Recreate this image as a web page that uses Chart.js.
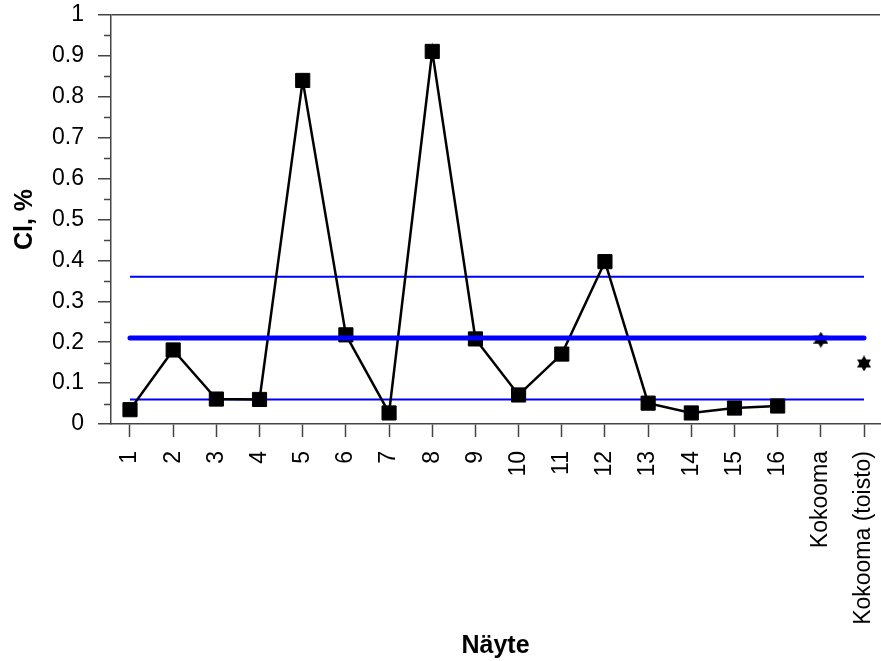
<!DOCTYPE html>
<html>
<head>
<meta charset="utf-8">
<script src="https://cdn.jsdelivr.net/npm/chart.js@4/dist/chart.umd.min.js"></script>
<style>
  html, body { margin: 0; padding: 0; background: #fff; overflow: hidden; }
  #wrap { width: 891px; height: 661px; }
</style>
</head>
<body>
<div id="wrap"><canvas id="chart"></canvas></div>
<script>
const samples = ["1", "2", "3", "4", "5", "6", "7", "8", "9", "10", "11", "12", "13", "14", "15", "16", "Kokooma", "Kokooma (toisto)"];
const clValues = [0.035, 0.181, 0.061, 0.060, 0.840, 0.218, 0.027, 0.911, 0.208, 0.071, 0.171, 0.397, 0.051, 0.027, 0.039, 0.044];
const kokooma = 0.206;
const kokoomaToisto = 0.148;
const upperLimit = 0.36;
const meanLine = 0.21;
const lowerLimit = 0.06;
const yTicks = [0, 0.1, 0.2, 0.3, 0.4, 0.5, 0.6, 0.7, 0.8, 0.9, 1];
const yMinorTicks = [0.05, 0.15, 0.25, 0.35, 0.45, 0.55, 0.65, 0.75, 0.85, 0.95];

const AXIS = "#444";
const FONT = "'Liberation Sans', Arial, sans-serif";

// six pointed star used for the two combined samples
function starImage(w, h) {
  const c = document.createElement("canvas");
  c.width = w;
  c.height = h;
  const g = c.getContext("2d");
  g.fillStyle = "#000";
  g.beginPath();
  g.moveTo(w / 2, 0);
  g.lineTo(w, h * 0.75);
  g.lineTo(0, h * 0.75);
  g.closePath();
  g.fill();
  g.beginPath();
  g.moveTo(w / 2, h);
  g.lineTo(w, h * 0.25);
  g.lineTo(0, h * 0.25);
  g.closePath();
  g.fill();
  return c;
}

function hline(v) {
  return [{ x: 1, y: v }, { x: samples.length, y: v }];
}

const minorTicks = {
  id: "minorTicks",
  afterDraw(chart) {
    const y = chart.scales.y;
    const ctx = chart.ctx;
    ctx.save();
    ctx.strokeStyle = AXIS;
    ctx.lineWidth = 1.5;
    yMinorTicks.forEach(v => {
      const py = Math.round(y.getPixelForValue(v)) + 0.5;
      ctx.beginPath();
      ctx.moveTo(y.right - 7, py);
      ctx.lineTo(y.right, py);
      ctx.stroke();
    });
    ctx.restore();
  }
};

new Chart(document.getElementById("chart"), {
  type: "line",
  data: {
    datasets: [
      {
        data: hline(meanLine),
        borderColor: "#0000ff",
        borderWidth: 5,
        borderCapStyle: "round",
        pointRadius: 0,
        order: 0
      },
      {
        data: clValues.map((v, i) => ({ x: i + 1, y: v })),
        borderColor: "#000",
        borderWidth: 2.5,
        pointStyle: "rect",
        pointRadius: 10,
        pointBorderWidth: 1,
        pointBackgroundColor: "#000",
        pointBorderColor: "#000",
        order: 1
      },
      {
        data: [{ x: 17, y: kokooma }],
        showLine: false,
        pointStyle: starImage(15, 16),
        order: 1
      },
      {
        data: [{ x: 18, y: kokoomaToisto }],
        showLine: false,
        pointStyle: starImage(14, 16),
        order: 1
      },
      {
        data: hline(upperLimit),
        borderColor: "#0000ff",
        borderWidth: 2,
        pointRadius: 0,
        order: 2
      },
      {
        data: hline(lowerLimit),
        borderColor: "#0000ff",
        borderWidth: 2,
        pointRadius: 0,
        order: 2
      }
    ]
  },
  options: {
    responsive: true,
    maintainAspectRatio: false,
    animation: false,
    layout: { padding: { top: 15, right: 0, left: 0, bottom: 0 } },
    plugins: {
      legend: { display: false },
      tooltip: { enabled: false }
    },
    scales: {
      x: {
        type: "linear",
        min: 0.56,
        max: 18.37,
        afterBuildTicks: s => { s.ticks = samples.map((c, i) => ({ value: i + 1 })); },
        afterFit: s => {
          s.height = 237;
          s.paddingLeft = 0;
          s.paddingRight = 0;
        },
        border: { display: true, color: AXIS, width: 1.5 },
        grid: { drawOnChartArea: false, drawTicks: true, tickLength: 13, tickColor: AXIS, tickWidth: 1.5 },
        ticks: {
          autoSkip: false,
          minRotation: 90,
          maxRotation: 90,
          padding: 14,
          color: "#000",
          font: { family: FONT, size: 23 },
          callback: v => samples[v - 1]
        },
        title: {
          display: true,
          text: "Näyte",
          color: "#000",
          font: { family: FONT, size: 25, weight: "bold" },
          padding: { top: 0, bottom: 0 }
        }
      },
      y: {
        min: 0,
        max: 1,
        afterBuildTicks: s => { s.ticks = yTicks.map(v => ({ value: v })); },
        afterFit: s => {
          s.width = 111;
          s.paddingTop = 0;
          s.paddingBottom = 0;
        },
        border: { display: true, color: AXIS, width: 1.5 },
        grid: {
          drawOnChartArea: true,
          color: c => (c.tick && c.tick.value === 1 ? AXIS : "transparent"),
          lineWidth: 1.5,
          tickLength: 13,
          tickColor: AXIS,
          tickWidth: 1.5
        },
        ticks: {
          padding: 14,
          color: "#000",
          font: { family: FONT, size: 23 },
          callback: v => String(+v.toFixed(2))
        },
        title: {
          display: true,
          text: "Cl, %",
          color: "#000",
          font: { family: FONT, size: 25, weight: "bold" },
          padding: { top: 10, bottom: 0 }
        }
      }
    }
  },
  plugins: [minorTicks]
});
</script>
</body>
</html>
